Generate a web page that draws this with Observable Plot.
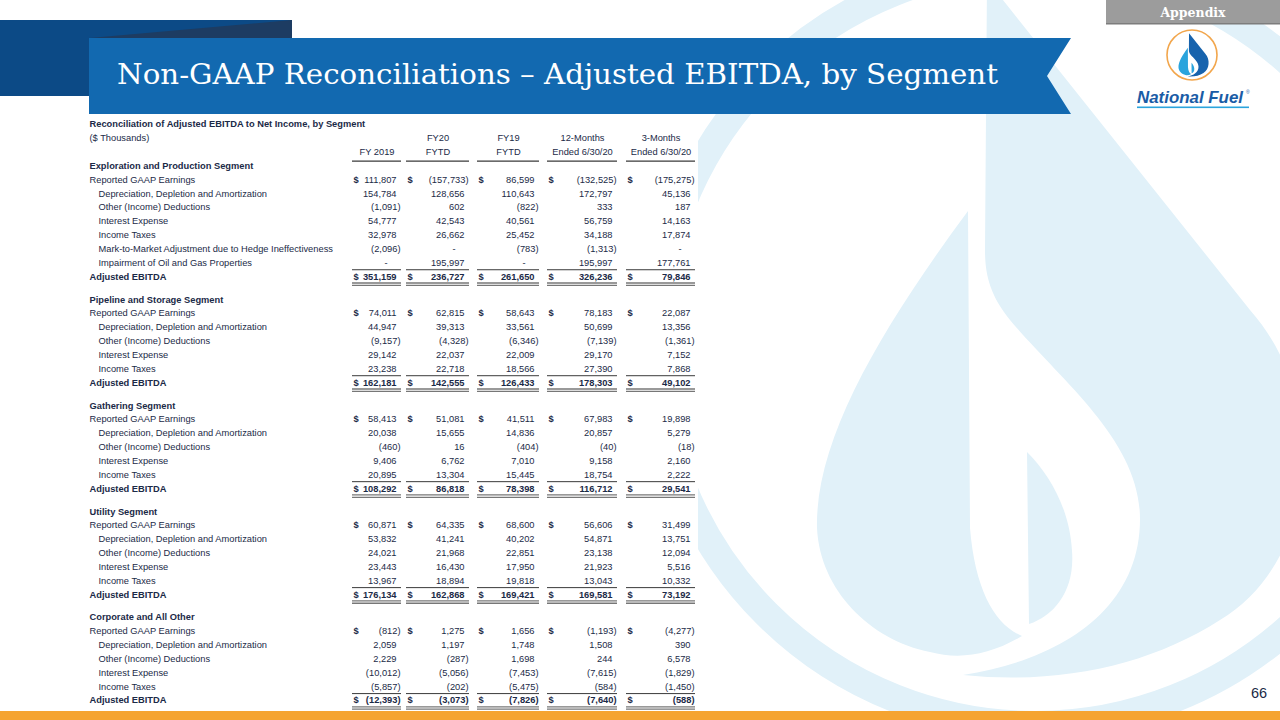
<!DOCTYPE html>
<html><head><meta charset="utf-8">
<script src="https://cdn.jsdelivr.net/npm/d3@7"></script>
<script src="https://cdn.jsdelivr.net/npm/@observablehq/plot@0.6"></script>
<style>
html,body{margin:0;padding:0;background:#fff;}
#page{position:relative;width:1280px;height:720px;overflow:hidden;font-family:"Liberation Sans",Arial,sans-serif;}
#bg{position:absolute;left:0;top:0;}
#table{position:absolute;left:0;top:0;}
</style></head>
<body><div id="page">
<svg id="bg" width="1280" height="720" xmlns="http://www.w3.org/2000/svg">
  <defs>
    <g id="flame">
      <path id="outerFlame" d="M987,-20 L1250,310 C1330,400 1320,560 1220,620 C1150,665 1060,685 963,675 C1060,660 1140,610 1140,519 C1140,440 1060,380 1010,320 C990,295 985,275 985,250 Z"/>
    </g>
  </defs>
  <g fill="#e1f1f9">
    <circle cx="1035" cy="345" r="380" fill="none" stroke="#e1f1f9" stroke-width="28"/>
    <path d="M987,-20 L1250,310 C1330,400 1320,560 1220,620 C1150,665 1060,685 963,675 C1060,660 1140,610 1140,519 C1140,440 1060,380 1010,320 C990,295 985,275 985,250 Z"/>
    <path d="M968,211 L970,528 C975,590 995,625 1022,636 C990,655 960,660 930,652 C870,640 820,590 817,528 C815,440 880,330 968,211 Z"/>
    <path d="M1027,452 L1029,624 C1055,615 1075,590 1072,551 C1070,510 1050,475 1027,452 Z"/>
  </g>
  <rect x="58" y="116" width="640" height="592" fill="#fff"/>
  <rect x="0" y="20" width="292" height="76" fill="#0c4a86"/>
  <polygon points="90,38 292,20 292,38" fill="#1d3c62"/>
  <polygon points="89,38 1071,38 1047,76 1071,114 89,114" fill="#1269b0"/>
  <text x="117" y="84" font-family="DejaVu Serif" font-size="27" fill="#fff" textLength="881" lengthAdjust="spacingAndGlyphs">Non-GAAP Reconciliations – Adjusted EBITDA, by Segment</text>
  <rect x="1106" y="0" width="174" height="24" fill="#9c9c9c"/>
  <rect x="1106" y="23" width="174" height="1.5" fill="#7d7d7d"/>
  <text x="1193" y="17" text-anchor="middle" font-family="DejaVu Serif" font-weight="bold" font-size="12.5" fill="#fff">Appendix</text>
  <circle cx="1192" cy="55" r="25" fill="#fff" stroke="#f2a64c" stroke-width="1.6"/>
  <g transform="translate(1192,56) scale(0.062) translate(-1035,-345)">
    <path fill="#1763ad" d="M987,-20 L1250,310 C1330,400 1320,560 1220,620 C1150,665 1060,685 963,675 C1060,660 1140,610 1140,519 C1140,440 1060,380 1010,320 C990,295 985,275 985,250 Z"/>
    <path fill="#2aa4dd" d="M968,211 L970,528 C975,590 995,625 1022,636 C990,655 960,660 930,652 C870,640 820,590 817,528 C815,440 880,330 968,211 Z"/>
    <path fill="#2aa4dd" d="M1027,452 L1029,624 C1055,615 1075,590 1072,551 C1070,510 1050,475 1027,452 Z"/>
  </g>
  <text x="1137" y="103" font-family="Liberation Sans" font-weight="bold" font-style="italic" font-size="17" fill="#1a5ca6" textLength="106" lengthAdjust="spacingAndGlyphs">National Fuel</text>
  <text x="1246" y="94" font-family="Liberation Sans" font-size="5" fill="#1a5ca6">®</text>
  <rect x="1137" y="106.5" width="112" height="1.6" fill="#2aa4dd"/>
  <rect x="0" y="711" width="1280" height="9" fill="#f5a431"/>
  <text x="1259" y="698" text-anchor="middle" font-family="Liberation Sans" font-size="14.5" fill="#1b2a47">66</text>
</svg>
<div id="table"></div>
</div>
<script>
// ---------- data ----------
const columnTop = ["", "FY20", "FY19", "12-Months", "3-Months"];
const columnBottom = ["FY 2019", "FYTD", "FYTD", "Ended 6/30/20", "Ended 6/30/20"];
const tableTitle = "Reconciliation of Adjusted EBITDA to Net Income, by Segment";
const unitsNote = "($ Thousands)";
const segmentNames = [
  "Exploration and Production Segment",
  "Pipeline and Storage Segment",
  "Gathering Segment",
  "Utility Segment",
  "Corporate and All Other"
];
const itemsEP = [
  "Reported GAAP Earnings",
  "Depreciation, Depletion and Amortization",
  "Other (Income) Deductions",
  "Interest Expense",
  "Income Taxes",
  "Mark-to-Market Adjustment due to Hedge Ineffectiveness",
  "Impairment of Oil and Gas Properties",
  "Adjusted EBITDA"
];
const itemsStd = [
  "Reported GAAP Earnings",
  "Depreciation, Depletion and Amortization",
  "Other (Income) Deductions",
  "Interest Expense",
  "Income Taxes",
  "Adjusted EBITDA"
];
// null = "-"
const valuesEP = [
  [111807, -157733, 86599, -132525, -175275],
  [154784, 128656, 110643, 172797, 45136],
  [-1091, 602, -822, 333, 187],
  [54777, 42543, 40561, 56759, 14163],
  [32978, 26662, 25452, 34188, 17874],
  [-2096, null, -783, -1313, null],
  [null, 195997, null, 195997, 177761],
  [351159, 236727, 261650, 326236, 79846]
];
const valuesPS = [
  [74011, 62815, 58643, 78183, 22087],
  [44947, 39313, 33561, 50699, 13356],
  [-9157, -4328, -6346, -7139, -1361],
  [29142, 22037, 22009, 29170, 7152],
  [23238, 22718, 18566, 27390, 7868],
  [162181, 142555, 126433, 178303, 49102]
];
const valuesGA = [
  [58413, 51081, 41511, 67983, 19898],
  [20038, 15655, 14836, 20857, 5279],
  [-460, 16, -404, -40, -18],
  [9406, 6762, 7010, 9158, 2160],
  [20895, 13304, 15445, 18754, 2222],
  [108292, 86818, 78398, 116712, 29541]
];
const valuesUT = [
  [60871, 64335, 68600, 56606, 31499],
  [53832, 41241, 40202, 54871, 13751],
  [24021, 21968, 22851, 23138, 12094],
  [23443, 16430, 17950, 21923, 5516],
  [13967, 18894, 19818, 13043, 10332],
  [176134, 162868, 169421, 169581, 73192]
];
const valuesCO = [
  [-812, 1275, 1656, -1193, -4277],
  [2059, 1197, 1748, 1508, 390],
  [2229, -287, 1698, 244, 6578],
  [-10012, -5056, -7453, -7615, -1829],
  [-5857, -202, -5475, -584, -1450],
  [-12393, -3073, -7826, -7640, -588]
];

// ---------- layout ----------
const colLeft = [352, 406, 477, 547, 626];
const colRight = [401, 469, 539, 617, 695];
const labelX = 89, indentX = 98;
const sectionGap = 1.66;
const ink = "#1b2a47";
const font = "Liberation Sans, Arial, sans-serif";
const fs = 9.3;

const segmentItems = [itemsEP, itemsStd, itemsStd, itemsStd, itemsStd];
const segmentValues = [valuesEP, valuesPS, valuesGA, valuesUT, valuesCO];

const segHeaders = [], labels = [], cells = [], totalRows = [];
let pos = 0;
segmentNames.forEach((name, s) => {
  if (s > 0) pos += sectionGap;
  segHeaders.push({text: name, y: pos});
  const items = segmentItems[s];
  items.forEach((item, i) => {
    pos += 1;
    const first = i === 0, total = i === items.length - 1;
    labels.push({text: item, y: pos, bold: total, x: (first || total) ? labelX : indentX});
    if (total) totalRows.push(pos);
    segmentValues[s][i].forEach((v, c) => {
      cells.push({c, v, y: pos, bold: total, dollar: first || total});
    });
  });
});
const yMax = pos;

const fmt = d3.format(",");
function cellText(d) {
  if (d.v == null) return "-";
  return d.v < 0 ? "(" + fmt(-d.v) + ")" : fmt(d.v);
}
function cellX(d) {
  if (d.v == null) return colRight[d.c] - 14;
  return d.v < 0 ? colRight[d.c] - 1 : colRight[d.c] - 5;
}
const colIdx = d3.range(5);
const headerRules = colIdx.map(c => ({c, y: -0.35}));
const sumRules = [];
totalRows.forEach(t => colIdx.forEach(c => {
  sumRules.push({c, y: t - 0.5, kind: "single"});
  sumRules.push({c, y: t + 0.46, kind: "double"});
  sumRules.push({c, y: t + 0.63, kind: "double"});
}));

const textBase = {fontSize: fs, fill: ink};

const chart = Plot.plot({
  width: 1280, height: 720, margin: 0,
  x: {type: "linear", domain: [0, 1280], range: [0, 1280], axis: null},
  y: {type: "linear", domain: [-3, yMax], range: [124, 700], axis: null},
  style: {background: "transparent", fontFamily: font, overflow: "visible"},
  marks: [
    // rules
    Plot.ruleY(headerRules, {y: "y", x1: d => colLeft[d.c], x2: d => colRight[d.c], stroke: "#3a3a3a", strokeWidth: 1.2}),
    Plot.ruleY(sumRules.filter(d => d.kind === "single"), {y: "y", x1: d => colLeft[d.c], x2: d => colRight[d.c], stroke: "#3a3a3a", strokeWidth: 1}),
    Plot.ruleY(sumRules.filter(d => d.kind === "double"), {y: "y", x1: d => colLeft[d.c], x2: d => colRight[d.c], stroke: "#777", strokeWidth: 1.3}),
    // title block
    Plot.text([tableTitle], {x: labelX, y: -3, text: d => d, textAnchor: "start", fontWeight: "bold", ...textBase}),
    Plot.text([unitsNote], {x: labelX, y: -2, text: d => d, textAnchor: "start", ...textBase}),
    Plot.text(colIdx, {x: c => (colLeft[c] + colRight[c]) / 2, y: -2, text: c => columnTop[c], textAnchor: "middle", ...textBase}),
    Plot.text(colIdx, {x: c => (colLeft[c] + colRight[c]) / 2, y: -1, text: c => columnBottom[c], textAnchor: "middle", ...textBase}),
    // segment headers
    Plot.text(segHeaders, {x: labelX, y: "y", text: "text", textAnchor: "start", fontWeight: "bold", ...textBase}),
    // row labels
    Plot.text(labels.filter(d => !d.bold), {x: "x", y: "y", text: "text", textAnchor: "start", ...textBase}),
    Plot.text(labels.filter(d => d.bold), {x: "x", y: "y", text: "text", textAnchor: "start", fontWeight: "bold", ...textBase}),
    // dollar signs
    Plot.text(cells.filter(d => d.dollar), {x: d => colLeft[d.c] + 1, y: "y", text: () => "$", textAnchor: "start", fontWeight: "bold", ...textBase}),
    // numbers
    Plot.text(cells.filter(d => !d.bold), {x: cellX, y: "y", text: cellText, textAnchor: "end", ...textBase}),
    Plot.text(cells.filter(d => d.bold), {x: cellX, y: "y", text: cellText, textAnchor: "end", fontWeight: "bold", ...textBase})
  ]
});
document.getElementById("table").appendChild(chart);
</script>
</body></html>
